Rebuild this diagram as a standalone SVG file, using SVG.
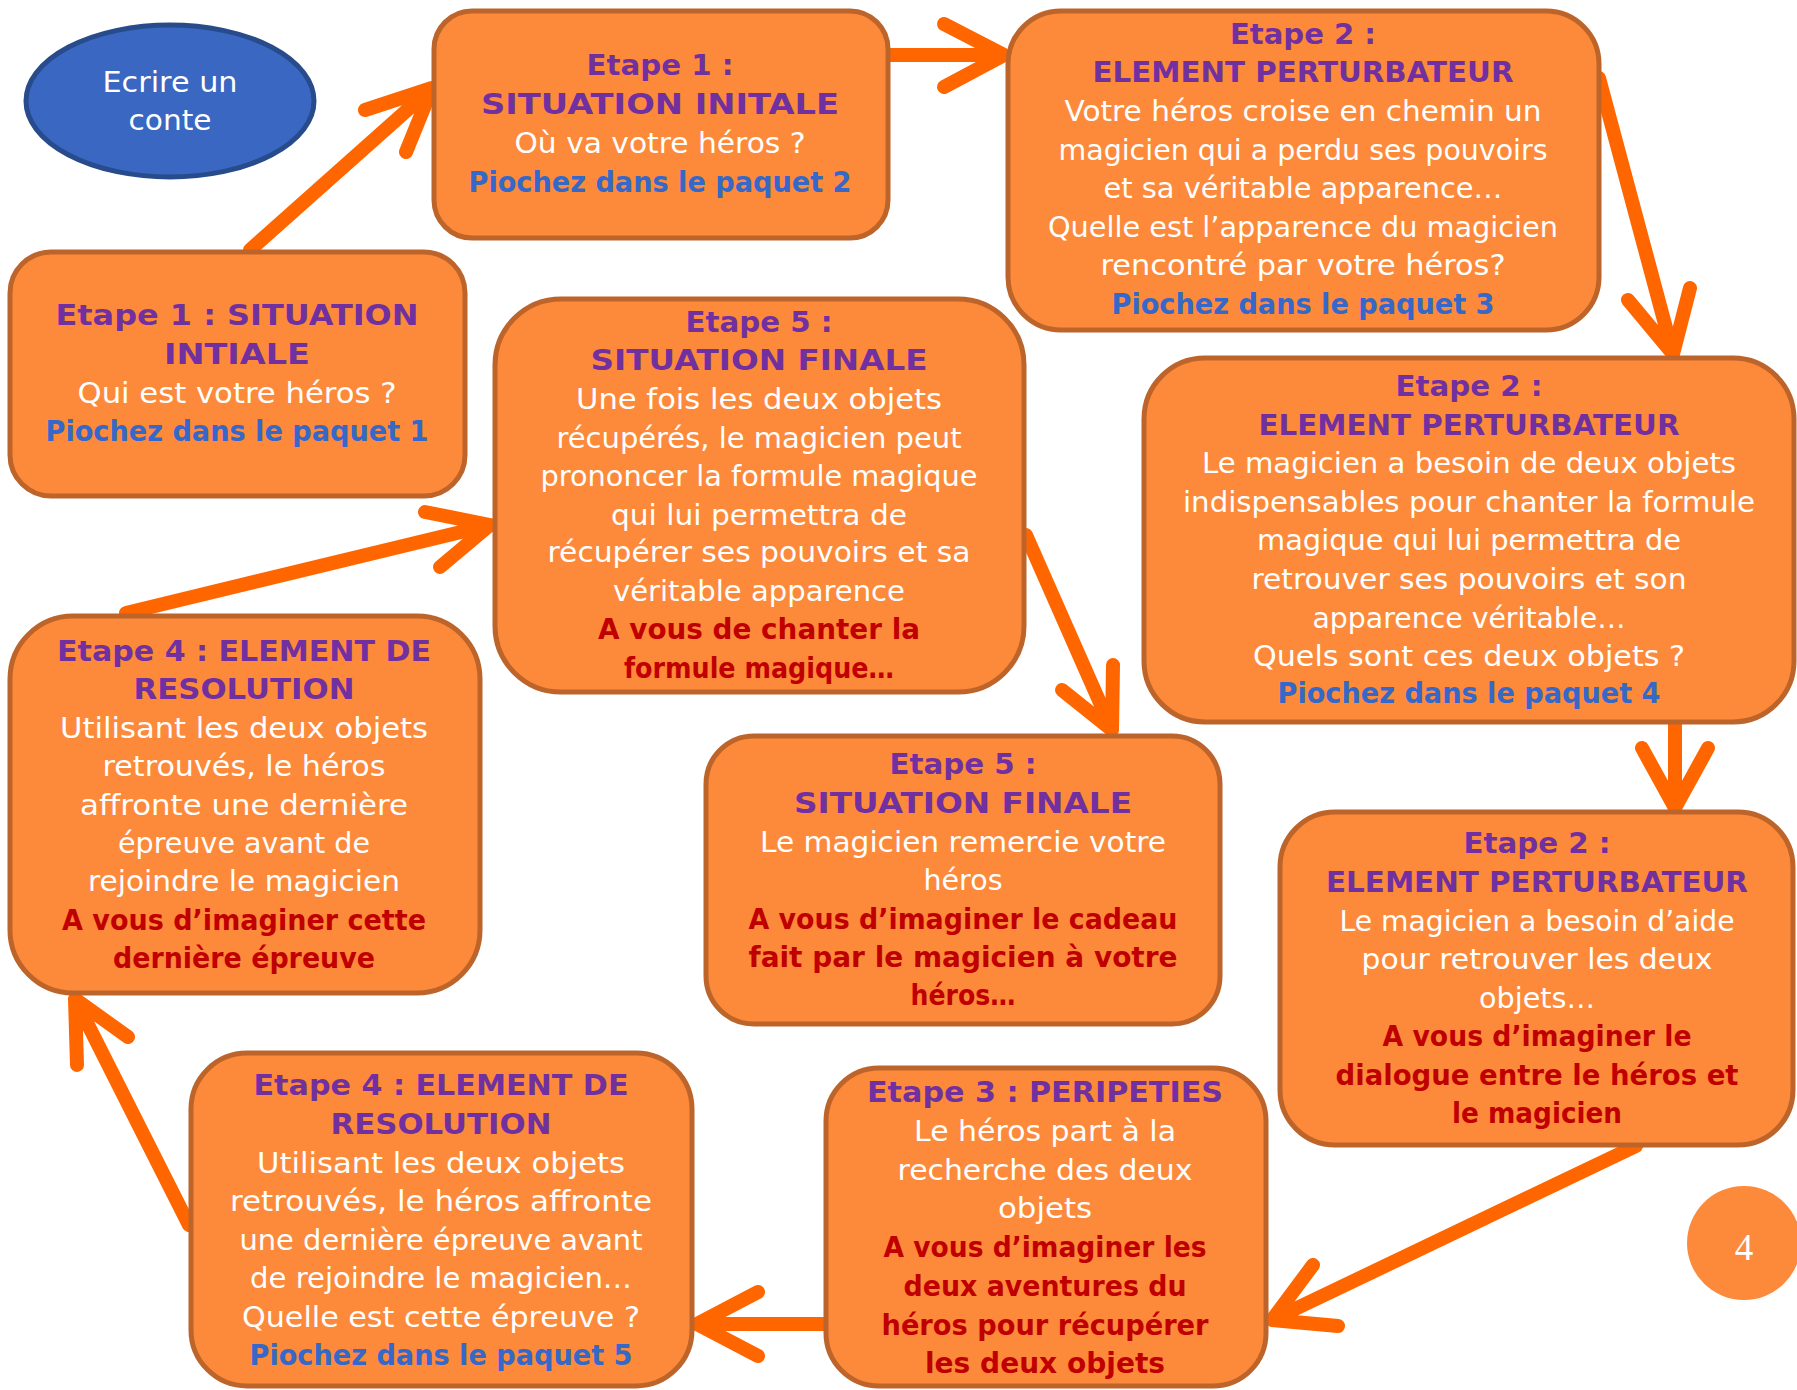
<svg xmlns="http://www.w3.org/2000/svg" width="1797" height="1390" viewBox="0 0 1797 1390">
<style>
.box{fill:#FD8A3A;stroke:#BD642B;stroke-width:5}
.arr{fill:none;stroke:#FF6600;stroke-width:14;stroke-linecap:round;stroke-linejoin:round}
text{font-family:"DejaVu Sans","Liberation Sans",sans-serif;font-size:29px;text-anchor:middle}
.h{font-weight:bold;fill:#7030A0}
.w{fill:#FFFFFF}
.b{font-weight:bold;fill:#3568C8}
.r{font-weight:bold;fill:#C00000}
</style>
<rect width="1797" height="1390" fill="#FFFFFF"/>
<g id="connectors">
<path class="arr" d="M250,250 L432,88 M365,110 L432,88 L406,152"/>
<path class="arr" d="M888,55 L1004,55 M944,24 L1004,55 L944,87"/>
<path class="arr" d="M1599,78 L1673,354 M1628,300 L1673,354 L1690,288"/>
<path class="arr" d="M1675,722 L1675,808 M1642,748 L1675,808 L1708,748"/>
<path class="arr" d="M1636,1146 L1272,1320 M1313,1265 L1272,1320 L1338,1326"/>
<path class="arr" d="M826,1324 L697,1324 M758,1292 L697,1324 L758,1356"/>
<path class="arr" d="M189,1225 L75,999 M77,1065 L75,999 L128,1037"/>
<path class="arr" d="M126,613 L490,525 M425,512 L490,525 L440,567"/>
<path class="arr" d="M1026,535 L1112,730 M1062,690 L1112,730 L1113,665"/>
</g>
<g id="start">
<ellipse cx="170" cy="101" rx="144" ry="76" fill="#3A67C1" stroke="#274B8B" stroke-width="5"/>
<text class="w" x="170" y="92" textLength="135" lengthAdjust="spacingAndGlyphs">Ecrire un</text>
<text class="w" x="170" y="130" textLength="83" lengthAdjust="spacingAndGlyphs">conte</text>
</g>
<g id="etape1-lieu">
<rect class="box" x="434" y="11" width="454" height="227" rx="38"/>
<text class="h" x="660" y="75" textLength="147" lengthAdjust="spacingAndGlyphs">Etape 1 :</text>
<text class="h" x="660" y="114" textLength="358" lengthAdjust="spacingAndGlyphs">SITUATION INITALE</text>
<text class="w" x="660" y="153" textLength="291" lengthAdjust="spacingAndGlyphs">Où va votre héros ?</text>
<text class="b" x="660" y="192" textLength="383" lengthAdjust="spacingAndGlyphs">Piochez dans le paquet 2</text>
</g>
<g id="etape2-apparence">
<rect class="box" x="1008" y="11" width="591" height="319" rx="53"/>
<text class="h" x="1303" y="44" textLength="146" lengthAdjust="spacingAndGlyphs">Etape 2 :</text>
<text class="h" x="1303" y="82" textLength="421" lengthAdjust="spacingAndGlyphs">ELEMENT PERTURBATEUR</text>
<text class="w" x="1303" y="121" textLength="477" lengthAdjust="spacingAndGlyphs">Votre héros croise en chemin un</text>
<text class="w" x="1303" y="160" textLength="489" lengthAdjust="spacingAndGlyphs">magicien qui a perdu ses pouvoirs</text>
<text class="w" x="1303" y="198" textLength="399" lengthAdjust="spacingAndGlyphs">et sa véritable apparence…</text>
<text class="w" x="1303" y="237" textLength="510" lengthAdjust="spacingAndGlyphs">Quelle est l’apparence du magicien</text>
<text class="w" x="1303" y="275" textLength="405" lengthAdjust="spacingAndGlyphs">rencontré par votre héros?</text>
<text class="b" x="1303" y="314" textLength="383" lengthAdjust="spacingAndGlyphs">Piochez dans le paquet 3</text>
</g>
<g id="etape1-heros">
<rect class="box" x="10" y="252" width="455" height="244" rx="41"/>
<text class="h" x="237" y="325" textLength="363" lengthAdjust="spacingAndGlyphs">Etape 1 : SITUATION</text>
<text class="h" x="237" y="364" textLength="146" lengthAdjust="spacingAndGlyphs">INTIALE</text>
<text class="w" x="237" y="403" textLength="319" lengthAdjust="spacingAndGlyphs">Qui est votre héros ?</text>
<text class="b" x="237" y="441" textLength="383" lengthAdjust="spacingAndGlyphs">Piochez dans le paquet 1</text>
</g>
<g id="etape5-formule">
<rect class="box" x="495" y="299" width="529" height="393" rx="66"/>
<text class="h" x="759" y="332" textLength="147" lengthAdjust="spacingAndGlyphs">Etape 5 :</text>
<text class="h" x="759" y="370" textLength="337" lengthAdjust="spacingAndGlyphs">SITUATION FINALE</text>
<text class="w" x="759" y="409" textLength="366" lengthAdjust="spacingAndGlyphs">Une fois les deux objets</text>
<text class="w" x="759" y="448" textLength="405" lengthAdjust="spacingAndGlyphs">récupérés, le magicien peut</text>
<text class="w" x="759" y="486" textLength="437" lengthAdjust="spacingAndGlyphs">prononcer la formule magique</text>
<text class="w" x="759" y="525" textLength="296" lengthAdjust="spacingAndGlyphs">qui lui permettra de</text>
<text class="w" x="759" y="562" textLength="423" lengthAdjust="spacingAndGlyphs">récupérer ses pouvoirs et sa</text>
<text class="w" x="759" y="601" textLength="292" lengthAdjust="spacingAndGlyphs">véritable apparence</text>
<text class="r" x="759" y="639" textLength="322" lengthAdjust="spacingAndGlyphs">A vous de chanter la</text>
<text class="r" x="759" y="678" textLength="270" lengthAdjust="spacingAndGlyphs">formule magique…</text>
</g>
<g id="etape2-objets">
<rect class="box" x="1144" y="358" width="650" height="364" rx="61"/>
<text class="h" x="1469" y="396" textLength="147" lengthAdjust="spacingAndGlyphs">Etape 2 :</text>
<text class="h" x="1469" y="435" textLength="421" lengthAdjust="spacingAndGlyphs">ELEMENT PERTURBATEUR</text>
<text class="w" x="1469" y="473" textLength="534" lengthAdjust="spacingAndGlyphs">Le magicien a besoin de deux objets</text>
<text class="w" x="1469" y="512" textLength="572" lengthAdjust="spacingAndGlyphs">indispensables pour chanter la formule</text>
<text class="w" x="1469" y="550" textLength="424" lengthAdjust="spacingAndGlyphs">magique qui lui permettra de</text>
<text class="w" x="1469" y="589" textLength="435" lengthAdjust="spacingAndGlyphs">retrouver ses pouvoirs et son</text>
<text class="w" x="1469" y="628" textLength="313" lengthAdjust="spacingAndGlyphs">apparence véritable…</text>
<text class="w" x="1469" y="666" textLength="432" lengthAdjust="spacingAndGlyphs">Quels sont ces deux objets ?</text>
<text class="b" x="1469" y="703" textLength="383" lengthAdjust="spacingAndGlyphs">Piochez dans le paquet 4</text>
</g>
<g id="etape4-epreuve">
<rect class="box" x="10" y="616" width="470" height="377" rx="63"/>
<text class="h" x="244" y="661" textLength="374" lengthAdjust="spacingAndGlyphs">Etape 4 : ELEMENT DE</text>
<text class="h" x="244" y="699" textLength="221" lengthAdjust="spacingAndGlyphs">RESOLUTION</text>
<text class="w" x="244" y="738" textLength="368" lengthAdjust="spacingAndGlyphs">Utilisant les deux objets</text>
<text class="w" x="244" y="776" textLength="283" lengthAdjust="spacingAndGlyphs">retrouvés, le héros</text>
<text class="w" x="244" y="815" textLength="328" lengthAdjust="spacingAndGlyphs">affronte une dernière</text>
<text class="w" x="244" y="853" textLength="252" lengthAdjust="spacingAndGlyphs">épreuve avant de</text>
<text class="w" x="244" y="891" textLength="312" lengthAdjust="spacingAndGlyphs">rejoindre le magicien</text>
<text class="r" x="244" y="930" textLength="364" lengthAdjust="spacingAndGlyphs">A vous d’imaginer cette</text>
<text class="r" x="244" y="968" textLength="262" lengthAdjust="spacingAndGlyphs">dernière épreuve</text>
</g>
<g id="etape5-cadeau">
<rect class="box" x="706" y="736" width="514" height="288" rx="48"/>
<text class="h" x="963" y="774" textLength="147" lengthAdjust="spacingAndGlyphs">Etape 5 :</text>
<text class="h" x="963" y="813" textLength="338" lengthAdjust="spacingAndGlyphs">SITUATION FINALE</text>
<text class="w" x="963" y="852" textLength="406" lengthAdjust="spacingAndGlyphs">Le magicien remercie votre</text>
<text class="w" x="963" y="890" textLength="79" lengthAdjust="spacingAndGlyphs">héros</text>
<text class="r" x="963" y="929" textLength="429" lengthAdjust="spacingAndGlyphs">A vous d’imaginer le cadeau</text>
<text class="r" x="963" y="967" textLength="429" lengthAdjust="spacingAndGlyphs">fait par le magicien à votre</text>
<text class="r" x="963" y="1005" textLength="105" lengthAdjust="spacingAndGlyphs">héros…</text>
</g>
<g id="etape2-dialogue">
<rect class="box" x="1280" y="812" width="513" height="333" rx="55"/>
<text class="h" x="1537" y="853" textLength="147" lengthAdjust="spacingAndGlyphs">Etape 2 :</text>
<text class="h" x="1537" y="892" textLength="422" lengthAdjust="spacingAndGlyphs">ELEMENT PERTURBATEUR</text>
<text class="w" x="1537" y="931" textLength="395" lengthAdjust="spacingAndGlyphs">Le magicien a besoin d’aide</text>
<text class="w" x="1537" y="969" textLength="351" lengthAdjust="spacingAndGlyphs">pour retrouver les deux</text>
<text class="w" x="1537" y="1008" textLength="116" lengthAdjust="spacingAndGlyphs">objets…</text>
<text class="r" x="1537" y="1046" textLength="309" lengthAdjust="spacingAndGlyphs">A vous d’imaginer le</text>
<text class="r" x="1537" y="1085" textLength="403" lengthAdjust="spacingAndGlyphs">dialogue entre le héros et</text>
<text class="r" x="1537" y="1123" textLength="170" lengthAdjust="spacingAndGlyphs">le magicien</text>
</g>
<g id="etape3-peripeties">
<rect class="box" x="826" y="1068" width="440" height="318" rx="53"/>
<text class="h" x="1045" y="1102" textLength="356" lengthAdjust="spacingAndGlyphs">Etape 3 : PERIPETIES</text>
<text class="w" x="1045" y="1141" textLength="262" lengthAdjust="spacingAndGlyphs">Le héros part à la</text>
<text class="w" x="1045" y="1180" textLength="295" lengthAdjust="spacingAndGlyphs">recherche des deux</text>
<text class="w" x="1045" y="1218" textLength="94" lengthAdjust="spacingAndGlyphs">objets</text>
<text class="r" x="1045" y="1257" textLength="323" lengthAdjust="spacingAndGlyphs">A vous d’imaginer les</text>
<text class="r" x="1045" y="1296" textLength="283" lengthAdjust="spacingAndGlyphs">deux aventures du</text>
<text class="r" x="1045" y="1335" textLength="327" lengthAdjust="spacingAndGlyphs">héros pour récupérer</text>
<text class="r" x="1045" y="1373" textLength="240" lengthAdjust="spacingAndGlyphs">les deux objets</text>
</g>
<g id="etape4-paquet5">
<rect class="box" x="191" y="1053" width="501" height="333" rx="56"/>
<text class="h" x="441" y="1095" textLength="375" lengthAdjust="spacingAndGlyphs">Etape 4 : ELEMENT DE</text>
<text class="h" x="441" y="1134" textLength="221" lengthAdjust="spacingAndGlyphs">RESOLUTION</text>
<text class="w" x="441" y="1173" textLength="368" lengthAdjust="spacingAndGlyphs">Utilisant les deux objets</text>
<text class="w" x="441" y="1211" textLength="422" lengthAdjust="spacingAndGlyphs">retrouvés, le héros affronte</text>
<text class="w" x="441" y="1250" textLength="403" lengthAdjust="spacingAndGlyphs">une dernière épreuve avant</text>
<text class="w" x="441" y="1288" textLength="382" lengthAdjust="spacingAndGlyphs">de rejoindre le magicien…</text>
<text class="w" x="441" y="1327" textLength="398" lengthAdjust="spacingAndGlyphs">Quelle est cette épreuve ?</text>
<text class="b" x="441" y="1365" textLength="383" lengthAdjust="spacingAndGlyphs">Piochez dans le paquet 5</text>
</g>
<g id="page-number">
<circle cx="1744" cy="1243" r="57" fill="#FD8A3A"/>
<text x="1744" y="1260" style="font-family:'Liberation Serif',serif;font-size:37px;fill:#FFFFFF">4</text>
</g>
</svg>
